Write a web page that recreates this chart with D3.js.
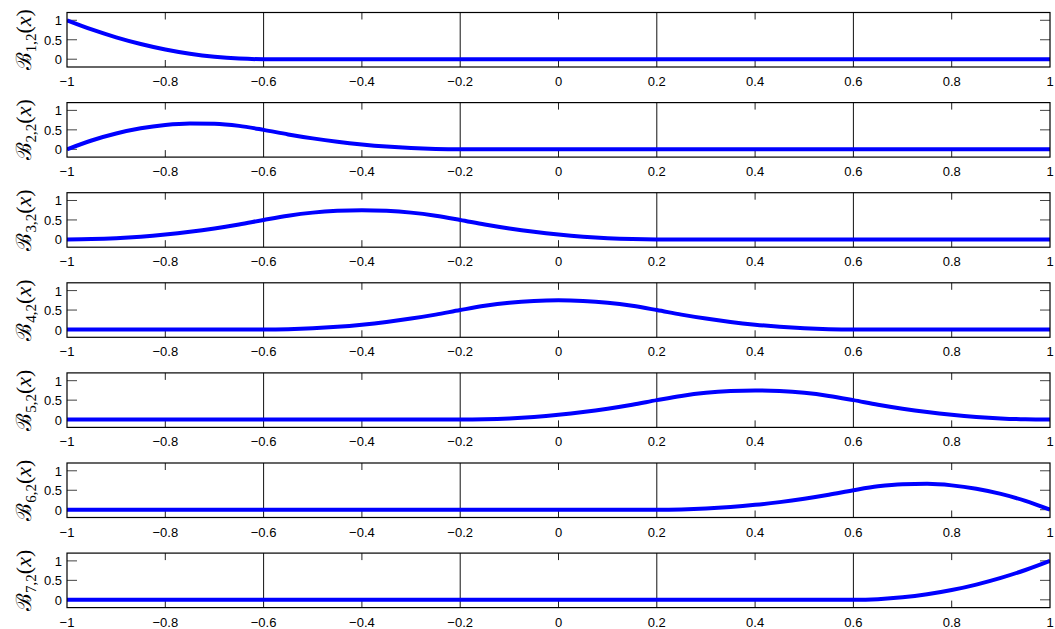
<!DOCTYPE html>
<html><head><meta charset="utf-8">
<script src="https://cdn.jsdelivr.net/npm/d3@7"></script>
<style>body{margin:0;background:#fff}svg{display:block}</style>
</head><body>
<script>
const xs = [-1,-0.95,-0.9,-0.85,-0.8,-0.75,-0.7,-0.65,-0.6,-0.55,-0.5,-0.45,-0.4,-0.35,-0.3,-0.25,-0.2,-0.15,-0.1,-0.05,0,0.05,0.1,0.15,0.2,0.25,0.3,0.35,0.4,0.45,0.5,0.55,0.6,0.65,0.7,0.75,0.8,0.85,0.9,0.95,1];
const b1 = [1,0.766,0.563,0.391,0.25,0.141,0.063,0.016,0,0,0,0,0,0,0,0,0,0,0,0,0,0,0,0,0,0,0,0,0,0,0,0,0,0,0,0,0,0,0,0,0];
const b2 = [0,0.227,0.406,0.539,0.625,0.664,0.656,0.602,0.5,0.383,0.281,0.195,0.125,0.070,0.031,0.008,0,0,0,0,0,0,0,0,0,0,0,0,0,0,0,0,0,0,0,0,0,0,0,0,0];
const b3 = [0,0.008,0.031,0.070,0.125,0.195,0.281,0.383,0.5,0.609,0.688,0.734,0.75,0.734,0.688,0.609,0.5,0.383,0.281,0.195,0.125,0.070,0.031,0.008,0,0,0,0,0,0,0,0,0,0,0,0,0,0,0,0,0];
const b4 = [0,0,0,0,0,0,0,0,0,0.008,0.031,0.070,0.125,0.195,0.281,0.383,0.5,0.609,0.688,0.734,0.75,0.734,0.688,0.609,0.5,0.383,0.281,0.195,0.125,0.070,0.031,0.008,0,0,0,0,0,0,0,0,0];
const b5 = [0,0,0,0,0,0,0,0,0,0,0,0,0,0,0,0,0,0.008,0.031,0.070,0.125,0.195,0.281,0.383,0.5,0.609,0.688,0.734,0.75,0.734,0.688,0.609,0.5,0.383,0.281,0.195,0.125,0.070,0.031,0.008,0];
const b6 = [0,0,0,0,0,0,0,0,0,0,0,0,0,0,0,0,0,0,0,0,0,0,0,0,0,0.008,0.031,0.070,0.125,0.195,0.281,0.383,0.5,0.602,0.656,0.664,0.625,0.539,0.406,0.227,0];
const b7 = [0,0,0,0,0,0,0,0,0,0,0,0,0,0,0,0,0,0,0,0,0,0,0,0,0,0,0,0,0,0,0,0,0,0.016,0.063,0.141,0.25,0.391,0.563,0.766,1];
const series = [b1,b2,b3,b4,b5,b6,b7];
const subs = ["1,2","2,2","3,2","4,2","5,2","6,2","7,2"];
const xTicks = [-1,-0.8,-0.6,-0.4,-0.2,0,0.2,0.4,0.6,0.8,1];
const yTicks = [0,0.5,1];
const knots = [-0.6,-0.2,0.2,0.6];

const W = 1055, H = 629;
const L = 67, R = 1050, top0 = 12.5, ph = 54.5, gap = 90.1;
const svg = d3.select("body").append("svg").attr("width", W).attr("height", H);
const x = d3.scaleLinear().domain([-1,1]).range([L,R]);
const fmt = v => (v < 0 ? "\u2212" : "") + String(Math.abs(v));

series.forEach((s, i) => {
  const t = top0 + i*gap;
  const y = d3.scaleLinear().domain([-0.2,1.2]).range([t+ph, t]);
  const g = svg.append("g");
  const cid = "c"+i;
  svg.append("clipPath").attr("id", cid).append("rect").attr("x", L).attr("y", t).attr("width", R-L).attr("height", ph);
  const xt = xTicks.filter(v => v > -1 && v < 1 && !knots.includes(v));
  g.selectAll(".xtb").data(xt).enter().append("line")
    .attr("x1", d=>x(d)).attr("x2", d=>x(d)).attr("y1", t+ph).attr("y2", t+ph-7)
    .attr("stroke", "#222").attr("stroke-width", 1);
  g.selectAll(".xtt").data(xt).enter().append("line")
    .attr("x1", d=>x(d)).attr("x2", d=>x(d)).attr("y1", t).attr("y2", t+7)
    .attr("stroke", "#222").attr("stroke-width", 1);
  g.selectAll(".ytl").data(yTicks).enter().append("line")
    .attr("x1", L).attr("x2", L+10).attr("y1", d=>y(d)).attr("y2", d=>y(d))
    .attr("stroke", "#444").attr("stroke-width", 1);
  g.selectAll(".ytr").data(yTicks).enter().append("line")
    .attr("x1", R).attr("x2", R-10).attr("y1", d=>y(d)).attr("y2", d=>y(d))
    .attr("stroke", "#444").attr("stroke-width", 1);
  g.selectAll(".kn").data(knots).enter().append("line")
    .attr("x1", d=>x(d)).attr("x2", d=>x(d)).attr("y1", t).attr("y2", t+ph)
    .attr("stroke", "#111").attr("stroke-width", 1);
  const line = d3.line().x((d,j)=>x(xs[j])).y(d=>y(d)).curve(d3.curveMonotoneX);
  g.append("path").datum(s).attr("d", line).attr("fill","none")
    .attr("stroke","#0000ff").attr("stroke-width",4).attr("clip-path", `url(#${cid})`);
  g.append("rect").attr("x", L).attr("y", t).attr("width", R-L).attr("height", ph)
    .attr("fill","none").attr("stroke","#000").attr("stroke-width",1.2);
  g.selectAll(".xl").data(xTicks).enter().append("text")
    .attr("x", d=>x(d)).attr("y", t+ph+19).attr("text-anchor","middle")
    .attr("font-family","Liberation Sans, Arial, sans-serif").attr("font-size",13)
    .text(fmt);
  g.selectAll(".yl").data(yTicks).enter().append("text")
    .attr("x", L-5).attr("y", d=>y(d)+5).attr("text-anchor","end")
    .attr("font-family","Liberation Sans, Arial, sans-serif").attr("font-size",13)
    .text(d=>String(d));
  const lab = g.append("text")
    .attr("transform", `translate(31,${t+ph/2}) rotate(-90)`)
    .attr("text-anchor","middle")
    .attr("font-family","Liberation Serif, DejaVu Serif, serif").attr("font-size",22);
  lab.append("tspan").attr("font-family","DejaVu Serif, serif").attr("font-size",21).text("\u212C");
  lab.append("tspan").attr("font-size",15).attr("dy",5).text(subs[i]);
  lab.append("tspan").attr("dy",-5).text("(");
  lab.append("tspan").attr("font-style","italic").text("x");
  lab.append("tspan").text(")");
});
</script>
</body></html>
